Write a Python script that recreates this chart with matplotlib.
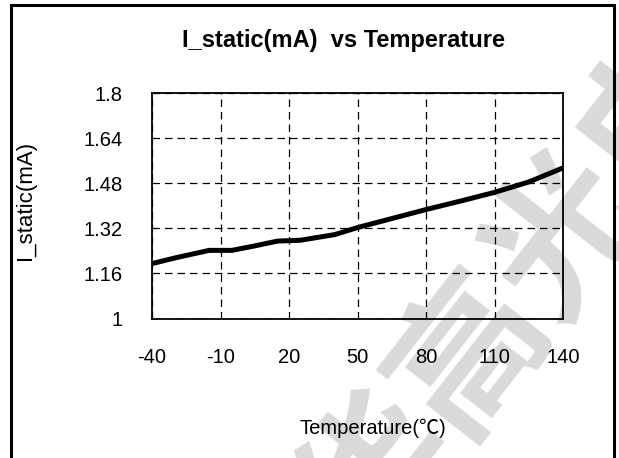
import matplotlib

matplotlib.use("Agg")
import matplotlib.pyplot as plt  # noqa: E402
from matplotlib.patches import Rectangle  # noqa: E402

# values
temps = [-40, -30, -15, -5, 5, 15, 25, 40, 50, 65, 80, 95, 110, 125, 140]
i_static = [1.195, 1.215, 1.242, 1.242, 1.258, 1.275, 1.278, 1.298, 1.323,
            1.355, 1.387, 1.417, 1.448, 1.485, 1.535]
x_ticks = [-40, -10, 20, 50, 80, 110, 140]
y_ticks = [1, 1.16, 1.32, 1.48, 1.64, 1.8]
y_tick_labels = ["1", "1.16", "1.32", "1.48", "1.64", "1.8"]

FONT = ["Liberation Sans", "Noto Sans CJK SC", "DejaVu Sans"]
plt.rcParams["font.family"] = FONT
plt.rcParams["axes.unicode_minus"] = False

W, H = 619, 458
fig = plt.figure(figsize=(W / 100, H / 100), dpi=100)
ax = fig.add_axes([152 / W, 1 - 318.5 / H, (563 - 152) / W, (318.5 - 93.3) / H])
ax.set_facecolor("none")

# watermark behind the chart
fig.text(520 / W, 1 - 296 / H, "华高光电", rotation=52, fontsize=110,
         color="#dadada", ha="center", va="center", weight="bold",
         family=["Noto Sans CJK SC"], rotation_mode="anchor", zorder=-5)

# outer frame (bottom edge lies below the image)
fig.patches.append(Rectangle((11 / W, -0.05), (614 - 11) / W, 1.05 - 5.5 / H,
                             transform=fig.transFigure, fill=False,
                             edgecolor="black", lw=2.2, clip_on=False))

ax.plot(temps, i_static, color="black", lw=3.6, solid_capstyle="butt", zorder=3)

ax.set_xlim(-40, 140)
ax.set_ylim(1, 1.8)
ax.set_xticks(x_ticks)
ax.set_yticks(y_ticks)
ax.set_yticklabels(y_tick_labels)
ax.tick_params(axis="both", length=0, labelsize=14.5)
ax.tick_params(axis="y", pad=21)
ax.tick_params(axis="x", pad=21)
ax.grid(True, color="black", lw=0.9, ls=(0, (6, 4)))
for s in ax.spines.values():
    s.set_linewidth(1.3)

ax.set_title("I_static(mA)  vs Temperature", fontsize=17, weight="bold",
             x=(344 - 152) / 411, y=(318.5 - 40) / 225.2, va="center", pad=0)
ax.set_xlabel("Temperature(℃)", fontsize=14.5, va="center")
ax.xaxis.set_label_coords((373 - 152) / 411, -(428 - 318.5) / 225.2)
ax.set_ylabel("I_static(mA)", fontsize=16, va="center")
ax.yaxis.set_label_coords((25 - 152) / 411, (318.5 - 200) / 225.2)

fig.savefig("out.png", dpi=100)
